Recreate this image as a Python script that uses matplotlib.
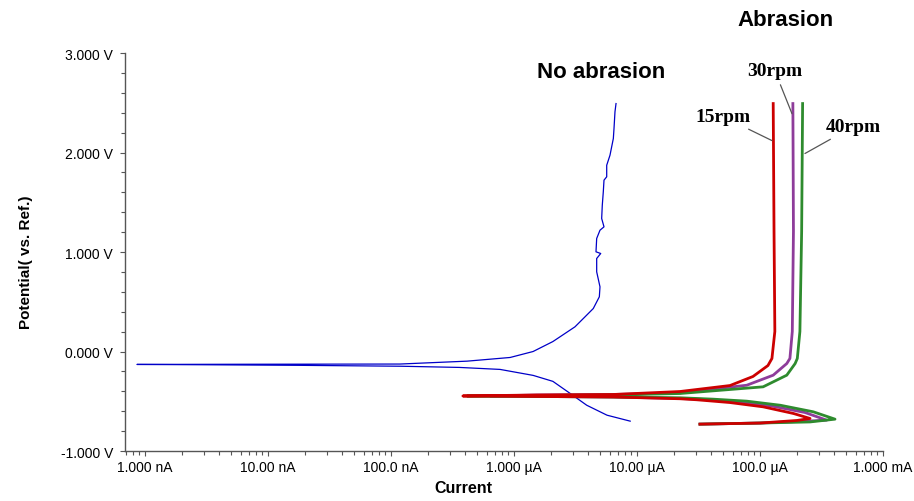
import numpy as np
from matplotlib import pyplot as plt
from matplotlib import ticker

plt.rcParams['font.family'] = ['Liberation Sans', 'DejaVu Sans']

###########
#  Data   #
###########

# current (A) / potential (V)

# no abrasion (one scan, cathodic end -> Ecorr -> anodic end)
blue_I = [8.8e-6, 5.7e-6, 3.9e-6, 2.85e-6, 2.07e-6, 1.43e-6, 7.7e-7, 3.6e-7, 1.2e-7, 1.8e-8, 2.8e-9, 8.6e-10,
          7.2e-9, 1.18e-7, 4.15e-7, 9.3e-7, 1.43e-6, 2.07e-6, 3.13e-6, 3.78e-6, 4.41e-6, 4.94e-6, 5.00e-6,
          4.70e-6, 4.70e-6, 5.07e-6, 4.64e-6, 4.70e-6, 5.00e-6, 5.39e-6, 5.16e-6, 5.22e-6, 5.32e-6, 5.39e-6,
          5.67e-6, 5.67e-6, 6.03e-6, 6.42e-6, 6.50e-6, 6.62e-6, 6.75e-6]
blue_V = [-0.70, -0.64, -0.54, -0.42, -0.30, -0.24, -0.18, -0.16, -0.148, -0.139, -0.133, -0.130,
          -0.128, -0.126, -0.097, -0.060, 0.0, 0.10, 0.248, 0.349, 0.432, 0.550, 0.650,
          0.801, 0.935, 0.985, 1.002, 1.136, 1.219, 1.253, 1.337, 1.470, 1.605, 1.722,
          1.756, 1.872, 1.973, 2.141, 2.241, 2.409, 2.492]

# 15 rpm
red_I = [3.25e-5, 1.0e-4, 2.0e-4, 2.55e-4, 1.87e-4, 1.06e-4, 5.7e-5, 3.05e-5, 2.24e-5, 6.4e-6, 1.54e-6, 3.84e-7,
         1.54e-6, 6.4e-6, 2.24e-5, 5.7e-5, 8.77e-5, 1.16e-4, 1.25e-4, 1.32e-4, 1.30e-4, 1.28e-4]
red_V = [-0.730, -0.719, -0.693, -0.673, -0.623, -0.556, -0.513, -0.485, -0.475, -0.457, -0.452, -0.447,
         -0.437, -0.432, -0.402, -0.342, -0.251, -0.141, -0.070, 0.201, 1.206, 2.492]

# 30 rpm
purple_I = [3.25e-5, 1.0e-4, 2.11e-4, 3.48e-4, 2.32e-4, 1.25e-4, 6.87e-5, 3.57e-5, 2.24e-5, 6.4e-6, 1.54e-6, 6.4e-7,
            1.54e-6, 6.4e-6, 2.24e-5, 7.8e-5, 1.28e-4, 1.65e-4, 1.75e-4, 1.83e-4, 1.87e-4, 1.85e-4]
purple_V = [-0.730, -0.719, -0.703, -0.690, -0.613, -0.548, -0.506, -0.482, -0.472, -0.457, -0.452, -0.447,
            -0.437, -0.432, -0.415, -0.339, -0.238, -0.121, -0.070, 0.201, 1.206, 2.492]

# 40 rpm
green_I = [3.25e-5, 1.0e-4, 2.55e-4, 4.07e-4, 2.71e-4, 1.46e-4, 7.8e-5, 4.17e-5, 2.24e-5, 6.4e-6, 1.54e-6, 4.15e-7,
           1.54e-6, 6.4e-6, 2.24e-5, 1.06e-4, 1.65e-4, 1.93e-4, 2.01e-4, 2.11e-4, 2.18e-4, 2.22e-4]
green_V = [-0.730, -0.719, -0.708, -0.680, -0.606, -0.540, -0.499, -0.479, -0.465, -0.457, -0.452, -0.447,
           -0.442, -0.437, -0.422, -0.355, -0.238, -0.121, -0.070, 0.201, 1.206, 2.492]

x_ticks = [1e-9, 1e-8, 1e-7, 1e-6, 1e-5, 1e-4, 1e-3]
x_labels = ['1.000 nA', '10.00 nA', '100.0 nA', '1.000 \u00b5A', '10.00 \u00b5A', '100.0 \u00b5A', '1.000 mA']
y_ticks = [-1, 0, 1, 2, 3]
y_labels = ['-1.000 V', '0.000 V', '1.000 V', '2.000 V', '3.000 V']

###########
#  Plot   #
###########

fig = plt.figure(figsize=(9.14, 5.02), dpi=100)
ax = fig.add_axes([0.1368, 0.0996, 0.8293, 0.7928])

ax.plot(blue_I, blue_V, color='#0000c8', lw=0.9)
ax.plot(purple_I, purple_V, color='#8e3c9a', lw=2.0)
ax.plot(green_I, green_V, color='#2e8b2e', lw=2.0)
ax.plot(red_I, red_V, color='#cc0000', lw=2.0)

ax.set_xscale('log')
ax.set_xlim(6.88e-10, 1e-3)
ax.set_ylim(-1, 3)

ax.xaxis.set_major_locator(ticker.FixedLocator(x_ticks))
ax.xaxis.set_major_formatter(ticker.FixedFormatter(x_labels))
ax.xaxis.set_minor_locator(ticker.LogLocator(base=10, subs=np.arange(2, 10), numticks=20))
ax.xaxis.set_minor_formatter(ticker.NullFormatter())
ax.yaxis.set_major_locator(ticker.FixedLocator(y_ticks))
ax.yaxis.set_major_formatter(ticker.FixedFormatter(y_labels))
ax.yaxis.set_minor_locator(ticker.MultipleLocator(0.2))

for s in ['top', 'right']:
    ax.spines[s].set_visible(False)
for s in ['left', 'bottom']:
    ax.spines[s].set_color('#555555')
    ax.spines[s].set_linewidth(1.0)

ax.tick_params(which='both', direction='out', color='#555555', width=0.8)
ax.tick_params(which='major', length=3.5)
ax.tick_params(which='minor', length=3.0)
ax.tick_params(axis='y', which='major', pad=5, labelsize=10)
ax.tick_params(axis='x', which='major', pad=3, labelsize=10)

ax.set_ylabel('Potential( vs. Ref.)', fontsize=11, fontweight='bold')
ax.yaxis.set_label_coords(-0.122, 0.477)
ax.set_xlabel('Current', fontsize=11.5, fontweight='bold')
ax.xaxis.set_label_coords(0.446, -0.072)

fig.text(0.6575, 0.8546, 'No abrasion', fontsize=16, fontweight='bold', ha='center', va='center')
fig.text(0.859, 0.960, 'Abrasion', fontsize=16, fontweight='bold', ha='center', va='center')

rpm_font = dict(family='Liberation Serif', fontsize=14, fontweight='bold', ha='center', va='center')
leader = dict(arrowstyle='-', color='#555555', lw=0.9, shrinkA=2, shrinkB=0)
ax.annotate('15rpm', xy=(1.25e-4, 2.12), xytext=(5.0e-5, 2.36), arrowprops=leader, **rpm_font)
ax.annotate('30rpm', xy=(1.82e-4, 2.39), xytext=(1.32e-4, 2.82), arrowprops=leader, **rpm_font)
ax.annotate('40rpm', xy=(2.32e-4, 1.99), xytext=(5.7e-4, 2.26), arrowprops=leader, **rpm_font)

fig.savefig('out.png', dpi=100)
